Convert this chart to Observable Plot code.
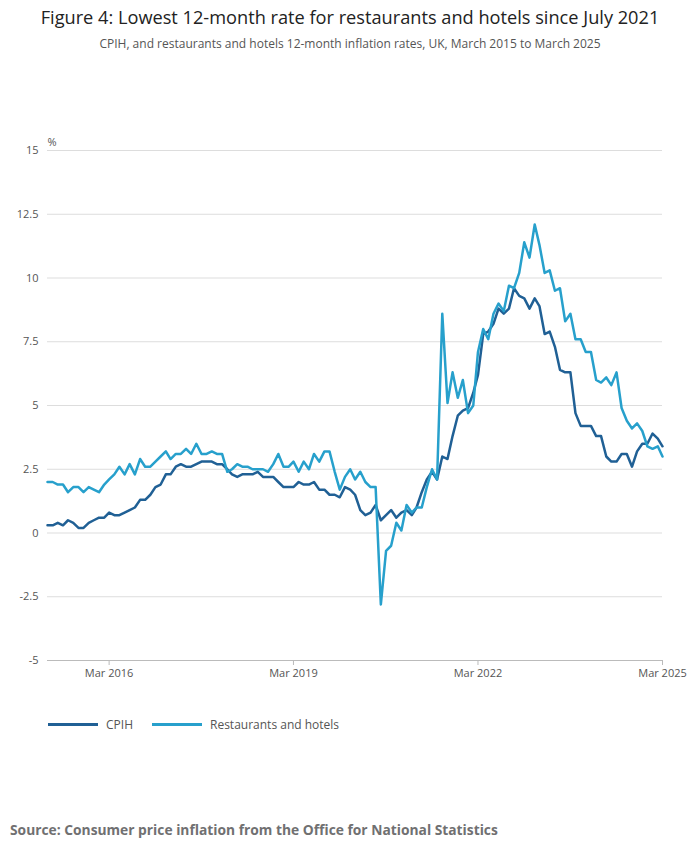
<!DOCTYPE html>
<html><head><meta charset="utf-8">
<script src="https://cdn.jsdelivr.net/npm/d3@7"></script>
<script src="https://cdn.jsdelivr.net/npm/@observablehq/plot@0.6"></script>
<style>
body{margin:0;font-family:"Open Sans",sans-serif;background:#fff;width:700px}
#t{height:60px;text-align:center}
#t h1{margin:0;padding-top:5px;font-size:18.2px;font-weight:400;color:#222}
#t p{margin:6px 0 0;font-size:12px;color:#555}
#lg{height:50px;position:relative;font-size:12px;color:#555}
.it{position:absolute;top:16px;display:flex;align-items:center}
.sw{width:50px;height:3px;margin-right:8px}
#src{position:absolute;top:820px;left:10px;font-size:13.8px;font-weight:700;color:#707071}
</style></head><body>
<div id="t"><h1>Figure 4: Lowest 12-month rate for restaurants and hotels since July 2021</h1>
<p>CPIH, and restaurants and hotels 12-month inflation rates, UK, March 2015 to March 2025</p></div>
<div id="chart"></div>
<div id="lg"><div class="it" style="left:48px"><div class="sw" style="background:#206095"></div>CPIH</div>
<div class="it" style="left:152px"><div class="sw" style="background:#27a0cc"></div>Restaurants and hotels</div></div>
<div id="src">Source: Consumer price inflation from the Office for National Statistics</div>
<script>
const cpih = [0.3,0.3,0.4,0.3,0.5,0.4,0.2,0.2,0.4,0.5,
0.6,0.6,0.8,0.7,0.7,0.8,0.9,1.0,1.3,1.3,1.5,1.8,
1.9,2.3,2.3,2.6,2.7,2.6,2.6,2.7,2.8,2.8,2.8,2.7,
2.7,2.5,2.3,2.2,2.3,2.3,2.3,2.4,2.2,2.2,2.2,2.0,
1.8,1.8,1.8,2.0,1.9,1.9,2.0,1.7,1.7,1.5,1.5,1.4,
1.8,1.7,1.5,0.9,0.7,0.8,1.1,0.5,0.7,0.9,0.6,0.8,
0.9,0.7,1.0,1.6,2.1,2.4,2.1,3.0,2.9,3.8,4.6,4.8,
4.9,5.5,6.2,7.8,7.9,8.2,8.8,8.6,8.8,9.6,9.3,9.2,
8.8,9.2,8.9,7.8,7.9,7.3,6.4,6.3,6.3,4.7,4.2,4.2,
4.2,3.8,3.8,3.0,2.8,2.8,3.1,3.1,2.6,3.2,3.5,3.5,
3.9,3.7,3.4];
const rh = [2.0,2.0,1.9,1.9,1.6,1.8,1.8,1.6,1.8,1.7,
1.6,1.9,2.1,2.3,2.6,2.3,2.7,2.3,2.9,2.6,2.6,2.8,
3.0,3.2,2.9,3.1,3.1,3.3,3.1,3.5,3.1,3.1,3.2,3.1,
3.1,2.4,2.5,2.7,2.6,2.6,2.5,2.5,2.5,2.4,2.7,3.1,
2.6,2.6,2.8,2.4,2.8,2.5,3.1,2.8,3.2,3.2,2.4,1.7,
2.2,2.5,2.1,2.4,2.0,1.8,1.8,-2.8,-0.7,-0.5,0.4,0.1,
1.1,0.8,1.0,1.0,1.8,2.5,2.1,8.6,5.1,6.3,5.3,6.0,
4.7,5.0,7.1,8.0,7.6,8.6,9.0,8.7,9.7,9.6,10.2,11.4,
10.8,12.1,11.3,10.2,10.3,9.5,9.6,8.3,8.6,7.6,7.6,7.1,
7.1,6.0,5.9,6.1,5.8,6.3,4.9,4.4,4.1,4.3,4.0,3.4,
3.3,3.4,3.0];
const yTicks = [-5,-2.5,0,2.5,5,7.5,10,12.5,15];
const xTicks = [new Date(2016,2,1),new Date(2019,2,1),new Date(2022,2,1),new Date(2025,2,1)];
const dates = cpih.map((_,i)=>new Date(2015,2+i,1));
const data = [];
cpih.forEach((v,i)=>data.push({date:dates[i],value:v,s:"CPIH"}));
rh.forEach((v,i)=>data.push({date:dates[i],value:v,s:"Restaurants and hotels"}));
const plot = Plot.plot({
  width:700,height:640,marginTop:90,marginBottom:40,marginLeft:47,marginRight:38,
  style:{fontFamily:"Open Sans",fontSize:"11px",color:"#555"},
  x:{type:"time",domain:[dates[0],dates[120]],ticks:xTicks,tickFormat:d3.timeFormat("Mar %Y"),label:null,tickSize:5},
  y:{domain:[-5,15],ticks:yTicks,tickFormat:d=>String(d),label:null,tickSize:0,tickPadding:6},
  color:{domain:["CPIH","Restaurants and hotels"],range:["#206095","#27a0cc"]},
  marks:[
    Plot.gridY(yTicks,{stroke:"#ddd",strokeOpacity:1}),
    Plot.ruleY([-5],{stroke:"#bbb"}),
    Plot.axisY({ticks:yTicks,tickSize:0,tickFormat:d=>String(d),anchor:"left",label:null,textAnchor:"end",dx:0}),
    Plot.axisX({ticks:xTicks,tickFormat:d3.timeFormat("Mar %Y"),label:null,tickSize:5,stroke:"#bbb"}),
    Plot.text(["%"],{frameAnchor:"top-left",dx:0,dy:-12,fontSize:11,fill:"#555",textAnchor:"start"}),
    Plot.line(data,{x:"date",y:"value",z:"s",stroke:"s",strokeWidth:2.5})
  ]
});
document.getElementById("chart").appendChild(plot);
</script></body></html>
